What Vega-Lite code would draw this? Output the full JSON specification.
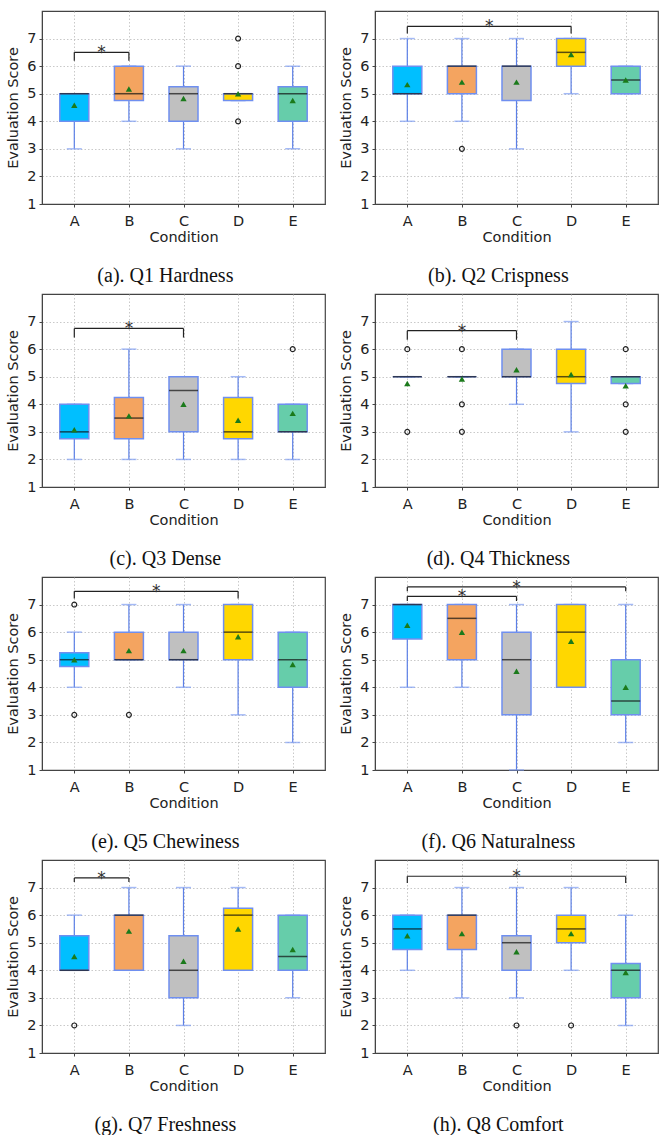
{
  "$schema": "https://vega.github.io/schema/vega-lite/v6.json",
  "padding": {"left": 5, "top": 10, "right": 0, "bottom": 0},
  "background": "white",
  "data": {"values": [
    {"p":"a","k":"box","c":0,"cl":"A","q1":4,"q3":5,"med":5,"lo":3,"hi":5,"mean":4.58},
    {"p":"a","k":"box","c":1,"cl":"B","q1":4.75,"q3":6,"med":5,"lo":4,"hi":6,"mean":5.17},
    {"p":"a","k":"box","c":2,"cl":"C","q1":4,"q3":5.25,"med":5,"lo":3,"hi":6,"mean":4.83},
    {"p":"a","k":"box","c":3,"cl":"D","q1":4.75,"q3":5,"med":5,"lo":4.75,"hi":5,"mean":5.0},
    {"p":"a","k":"box","c":4,"cl":"E","q1":4,"q3":5.25,"med":5,"lo":3,"hi":6,"mean":4.75},
    {"p":"a","k":"out","c":3,"v":4},
    {"p":"a","k":"out","c":3,"v":6},
    {"p":"a","k":"out","c":3,"v":7},
    {"p":"a","k":"br","c1":0,"c2":1,"s":0.5,"y":6.5,"y0":6.2},

    {"p":"b","k":"box","c":0,"cl":"A","q1":5,"q3":6,"med":5,"lo":4,"hi":7,"mean":5.33},
    {"p":"b","k":"box","c":1,"cl":"B","q1":5,"q3":6,"med":6,"lo":4,"hi":7,"mean":5.42},
    {"p":"b","k":"box","c":2,"cl":"C","q1":4.75,"q3":6,"med":6,"lo":3,"hi":7,"mean":5.42},
    {"p":"b","k":"box","c":3,"cl":"D","q1":6,"q3":7,"med":6.5,"lo":5,"hi":7,"mean":6.42},
    {"p":"b","k":"box","c":4,"cl":"E","q1":5,"q3":6,"med":5.5,"lo":5,"hi":6,"mean":5.5},
    {"p":"b","k":"out","c":1,"v":3},
    {"p":"b","k":"br","c1":0,"c2":3,"s":1.5,"y":7.44,"y0":7.18},

    {"p":"c","k":"box","c":0,"cl":"A","q1":2.75,"q3":4,"med":3,"lo":2,"hi":4,"mean":3.08},
    {"p":"c","k":"box","c":1,"cl":"B","q1":2.75,"q3":4.25,"med":3.5,"lo":2,"hi":6,"mean":3.58},
    {"p":"c","k":"box","c":2,"cl":"C","q1":3,"q3":5,"med":4.5,"lo":2,"hi":5,"mean":4.0},
    {"p":"c","k":"box","c":3,"cl":"D","q1":2.75,"q3":4.25,"med":3,"lo":2,"hi":5,"mean":3.42},
    {"p":"c","k":"box","c":4,"cl":"E","q1":3,"q3":4,"med":3,"lo":2,"hi":4,"mean":3.67},
    {"p":"c","k":"out","c":4,"v":6},
    {"p":"c","k":"br","c1":0,"c2":2,"s":1,"y":6.75,"y0":6.42},

    {"p":"d","k":"box","c":0,"cl":"A","q1":5,"q3":5,"med":5,"lo":5,"hi":5,"mean":4.75},
    {"p":"d","k":"box","c":1,"cl":"B","q1":5,"q3":5,"med":5,"lo":5,"hi":5,"mean":4.92},
    {"p":"d","k":"box","c":2,"cl":"C","q1":5,"q3":6,"med":5,"lo":4,"hi":6,"mean":5.25},
    {"p":"d","k":"box","c":3,"cl":"D","q1":4.75,"q3":6,"med":5,"lo":3,"hi":7,"mean":5.08},
    {"p":"d","k":"box","c":4,"cl":"E","q1":4.75,"q3":5,"med":5,"lo":4.75,"hi":5,"mean":4.67},
    {"p":"d","k":"out","c":0,"v":3},
    {"p":"d","k":"out","c":0,"v":6},
    {"p":"d","k":"out","c":1,"v":3},
    {"p":"d","k":"out","c":1,"v":4},
    {"p":"d","k":"out","c":1,"v":6},
    {"p":"d","k":"out","c":4,"v":3},
    {"p":"d","k":"out","c":4,"v":4},
    {"p":"d","k":"out","c":4,"v":6},
    {"p":"d","k":"br","c1":0,"c2":2,"s":1,"y":6.67,"y0":6.34},

    {"p":"e","k":"box","c":0,"cl":"A","q1":4.75,"q3":5.25,"med":5,"lo":4,"hi":6,"mean":5.0},
    {"p":"e","k":"box","c":1,"cl":"B","q1":5,"q3":6,"med":5,"lo":5,"hi":7,"mean":5.33},
    {"p":"e","k":"box","c":2,"cl":"C","q1":5,"q3":6,"med":5,"lo":4,"hi":7,"mean":5.33},
    {"p":"e","k":"box","c":3,"cl":"D","q1":5,"q3":7,"med":6,"lo":3,"hi":7,"mean":5.83},
    {"p":"e","k":"box","c":4,"cl":"E","q1":4,"q3":6,"med":5,"lo":2,"hi":6,"mean":4.83},
    {"p":"e","k":"out","c":0,"v":3},
    {"p":"e","k":"out","c":0,"v":7},
    {"p":"e","k":"out","c":1,"v":3},
    {"p":"e","k":"br","c1":0,"c2":3,"s":1.5,"y":7.48,"y0":7.22},

    {"p":"f","k":"box","c":0,"cl":"A","q1":5.75,"q3":7,"med":7,"lo":4,"hi":7,"mean":6.25},
    {"p":"f","k":"box","c":1,"cl":"B","q1":5,"q3":7,"med":6.5,"lo":4,"hi":7,"mean":6.0},
    {"p":"f","k":"box","c":2,"cl":"C","q1":3,"q3":6,"med":5,"lo":1,"hi":7,"mean":4.58},
    {"p":"f","k":"box","c":3,"cl":"D","q1":4,"q3":7,"med":6,"lo":4,"hi":7,"mean":5.67},
    {"p":"f","k":"box","c":4,"cl":"E","q1":3,"q3":5,"med":3.5,"lo":2,"hi":7,"mean":4.0},
    {"p":"f","k":"br","c1":0,"c2":2,"s":1,"y":7.3,"y0":7.13},
    {"p":"f","k":"br","c1":0,"c2":4,"s":2,"y":7.64,"y0":7.48},

    {"p":"g","k":"box","c":0,"cl":"A","q1":4,"q3":5.25,"med":4,"lo":4,"hi":6,"mean":4.5},
    {"p":"g","k":"box","c":1,"cl":"B","q1":4,"q3":6,"med":6,"lo":4,"hi":7,"mean":5.42},
    {"p":"g","k":"box","c":2,"cl":"C","q1":3,"q3":5.25,"med":4,"lo":2,"hi":7,"mean":4.33},
    {"p":"g","k":"box","c":3,"cl":"D","q1":4,"q3":6.25,"med":6,"lo":4,"hi":7,"mean":5.5},
    {"p":"g","k":"box","c":4,"cl":"E","q1":4,"q3":6,"med":4.5,"lo":3,"hi":6,"mean":4.75},
    {"p":"g","k":"out","c":0,"v":2},
    {"p":"g","k":"br","c1":0,"c2":1,"s":0.5,"y":7.35,"y0":7.2},

    {"p":"h","k":"box","c":0,"cl":"A","q1":4.75,"q3":6,"med":5.5,"lo":4,"hi":6,"mean":5.25},
    {"p":"h","k":"box","c":1,"cl":"B","q1":4.75,"q3":6,"med":6,"lo":3,"hi":7,"mean":5.33},
    {"p":"h","k":"box","c":2,"cl":"C","q1":4,"q3":5.25,"med":5,"lo":3,"hi":7,"mean":4.67},
    {"p":"h","k":"box","c":3,"cl":"D","q1":5,"q3":6,"med":5.5,"lo":4,"hi":7,"mean":5.33},
    {"p":"h","k":"box","c":4,"cl":"E","q1":3,"q3":4.25,"med":4,"lo":2,"hi":6,"mean":3.92},
    {"p":"h","k":"out","c":2,"v":2},
    {"p":"h","k":"out","c":3,"v":2},
    {"p":"h","k":"br","c1":0,"c2":4,"s":2,"y":7.41,"y0":7.17}
  ]},
  "vconcat": [
    {"hconcat": [
      {"width":283,"height":193,"title":{"text":"(a). Q1 Hardness"},"transform":[{"filter":"datum.p=='a'"}],
       "encoding":{"x":{"field":"c","type":"quantitative","title":"Condition","scale":{"domain":[-0.5,4.5],"nice":false,"zero":false},"axis":{"values":[0,1,2,3,4],"tickCount":10,"labelExpr":"['A','B','C','D','E'][datum.value]"}}},
       "layer":[
        {"transform":[{"filter":"datum.k=='box'"}],"mark":{"type":"rule","color":"#5b7fe6","strokeWidth":1.2},"encoding":{"y":{"field":"lo","type":"quantitative","title":"Evaluation Score","scale":{"domain":[1,8],"nice":false,"zero":false},"axis":{"values":[1,2,3,4,5,6,7],"tickCount":10,"format":"d","labelOverlap":false}},"y2":{"field":"hi"}}},
        {"transform":[{"filter":"datum.k=='box'"},{"fold":["lo","hi"],"as":["w","wv"]}],"mark":{"type":"tick","orient":"horizontal","color":"#7d9cf2","size":15,"thickness":1.5},"encoding":{"y":{"field":"wv","type":"quantitative","title":"Evaluation Score"}}},
        {"transform":[{"filter":"datum.k=='box'"}],"mark":{"type":"bar","orient":"vertical","size":29,"stroke":"#6f8ff0","strokeWidth":1.5},"encoding":{"y":{"field":"q1","type":"quantitative","title":"Evaluation Score"},"y2":{"field":"q3"},"color":{"field":"cl","type":"nominal","scale":{"domain":["A","B","C","D","E"],"range":["#00bfff","#f4a460","#c0c0c0","#ffd700","#66cdaa"]},"legend":null}}},
        {"transform":[{"filter":"datum.k=='box'"}],"mark":{"type":"tick","orient":"horizontal","color":"#111","size":29,"thickness":1.5},"encoding":{"y":{"field":"med","type":"quantitative","title":"Evaluation Score"}}},
        {"transform":[{"filter":"datum.k=='box'"}],"mark":{"type":"point","shape":"triangle-up","filled":true,"color":"#1b7a1b","size":40,"opacity":1},"encoding":{"y":{"field":"mean","type":"quantitative","title":"Evaluation Score"}}},
        {"transform":[{"filter":"datum.k=='out'"}],"mark":{"type":"point","shape":"circle","filled":false,"color":"#222","size":24,"strokeWidth":1.2,"opacity":1},"encoding":{"y":{"field":"v","type":"quantitative","title":"Evaluation Score"}}},
        {"transform":[{"filter":"datum.k=='br'"}],"mark":{"type":"rule","color":"#222","strokeWidth":1.2},"encoding":{"x":{"field":"c1","type":"quantitative","title":"Condition"},"x2":{"field":"c2"},"y":{"field":"y","type":"quantitative","title":"Evaluation Score"}}},
        {"transform":[{"filter":"datum.k=='br'"},{"fold":["c1","c2"],"as":["side","cx"]}],"mark":{"type":"rule","color":"#222","strokeWidth":1.2},"encoding":{"x":{"field":"cx","type":"quantitative","title":"Condition"},"y":{"field":"y0","type":"quantitative","title":"Evaluation Score"},"y2":{"field":"y"}}},
        {"transform":[{"filter":"datum.k=='br'"}],"mark":{"type":"text","text":"*","font":"DejaVu Sans","fontSize":17,"color":"#333","baseline":"alphabetic","align":"center","dy":6},"encoding":{"x":{"field":"s","type":"quantitative","title":"Condition"},"y":{"field":"y","type":"quantitative","title":"Evaluation Score"}}}
       ]},
      {"width":283,"height":193,"title":{"text":"(b). Q2 Crispness"},"transform":[{"filter":"datum.p=='b'"}],
       "encoding":{"x":{"field":"c","type":"quantitative","title":"Condition","scale":{"domain":[-0.5,4.5],"nice":false,"zero":false},"axis":{"values":[0,1,2,3,4],"tickCount":10,"labelExpr":"['A','B','C','D','E'][datum.value]"}}},
       "layer":[
        {"transform":[{"filter":"datum.k=='box'"}],"mark":{"type":"rule","color":"#5b7fe6","strokeWidth":1.2},"encoding":{"y":{"field":"lo","type":"quantitative","title":"Evaluation Score","scale":{"domain":[1,8],"nice":false,"zero":false},"axis":{"values":[1,2,3,4,5,6,7],"tickCount":10,"format":"d","labelOverlap":false}},"y2":{"field":"hi"}}},
        {"transform":[{"filter":"datum.k=='box'"},{"fold":["lo","hi"],"as":["w","wv"]}],"mark":{"type":"tick","orient":"horizontal","color":"#7d9cf2","size":15,"thickness":1.5},"encoding":{"y":{"field":"wv","type":"quantitative","title":"Evaluation Score"}}},
        {"transform":[{"filter":"datum.k=='box'"}],"mark":{"type":"bar","orient":"vertical","size":29,"stroke":"#6f8ff0","strokeWidth":1.5},"encoding":{"y":{"field":"q1","type":"quantitative","title":"Evaluation Score"},"y2":{"field":"q3"},"color":{"field":"cl","type":"nominal","scale":{"domain":["A","B","C","D","E"],"range":["#00bfff","#f4a460","#c0c0c0","#ffd700","#66cdaa"]},"legend":null}}},
        {"transform":[{"filter":"datum.k=='box'"}],"mark":{"type":"tick","orient":"horizontal","color":"#111","size":29,"thickness":1.5},"encoding":{"y":{"field":"med","type":"quantitative","title":"Evaluation Score"}}},
        {"transform":[{"filter":"datum.k=='box'"}],"mark":{"type":"point","shape":"triangle-up","filled":true,"color":"#1b7a1b","size":40,"opacity":1},"encoding":{"y":{"field":"mean","type":"quantitative","title":"Evaluation Score"}}},
        {"transform":[{"filter":"datum.k=='out'"}],"mark":{"type":"point","shape":"circle","filled":false,"color":"#222","size":24,"strokeWidth":1.2,"opacity":1},"encoding":{"y":{"field":"v","type":"quantitative","title":"Evaluation Score"}}},
        {"transform":[{"filter":"datum.k=='br'"}],"mark":{"type":"rule","color":"#222","strokeWidth":1.2},"encoding":{"x":{"field":"c1","type":"quantitative","title":"Condition"},"x2":{"field":"c2"},"y":{"field":"y","type":"quantitative","title":"Evaluation Score"}}},
        {"transform":[{"filter":"datum.k=='br'"},{"fold":["c1","c2"],"as":["side","cx"]}],"mark":{"type":"rule","color":"#222","strokeWidth":1.2},"encoding":{"x":{"field":"cx","type":"quantitative","title":"Condition"},"y":{"field":"y0","type":"quantitative","title":"Evaluation Score"},"y2":{"field":"y"}}},
        {"transform":[{"filter":"datum.k=='br'"}],"mark":{"type":"text","text":"*","font":"DejaVu Sans","fontSize":17,"color":"#333","baseline":"alphabetic","align":"center","dy":6},"encoding":{"x":{"field":"s","type":"quantitative","title":"Condition"},"y":{"field":"y","type":"quantitative","title":"Evaluation Score"}}}
       ]}
    ]},
    {"hconcat": [
      {"width":283,"height":193,"title":{"text":"(c). Q3 Dense"},"transform":[{"filter":"datum.p=='c'"}],
       "encoding":{"x":{"field":"c","type":"quantitative","title":"Condition","scale":{"domain":[-0.5,4.5],"nice":false,"zero":false},"axis":{"values":[0,1,2,3,4],"tickCount":10,"labelExpr":"['A','B','C','D','E'][datum.value]"}}},
       "layer":[
        {"transform":[{"filter":"datum.k=='box'"}],"mark":{"type":"rule","color":"#5b7fe6","strokeWidth":1.2},"encoding":{"y":{"field":"lo","type":"quantitative","title":"Evaluation Score","scale":{"domain":[1,8],"nice":false,"zero":false},"axis":{"values":[1,2,3,4,5,6,7],"tickCount":10,"format":"d","labelOverlap":false}},"y2":{"field":"hi"}}},
        {"transform":[{"filter":"datum.k=='box'"},{"fold":["lo","hi"],"as":["w","wv"]}],"mark":{"type":"tick","orient":"horizontal","color":"#7d9cf2","size":15,"thickness":1.5},"encoding":{"y":{"field":"wv","type":"quantitative","title":"Evaluation Score"}}},
        {"transform":[{"filter":"datum.k=='box'"}],"mark":{"type":"bar","orient":"vertical","size":29,"stroke":"#6f8ff0","strokeWidth":1.5},"encoding":{"y":{"field":"q1","type":"quantitative","title":"Evaluation Score"},"y2":{"field":"q3"},"color":{"field":"cl","type":"nominal","scale":{"domain":["A","B","C","D","E"],"range":["#00bfff","#f4a460","#c0c0c0","#ffd700","#66cdaa"]},"legend":null}}},
        {"transform":[{"filter":"datum.k=='box'"}],"mark":{"type":"tick","orient":"horizontal","color":"#111","size":29,"thickness":1.5},"encoding":{"y":{"field":"med","type":"quantitative","title":"Evaluation Score"}}},
        {"transform":[{"filter":"datum.k=='box'"}],"mark":{"type":"point","shape":"triangle-up","filled":true,"color":"#1b7a1b","size":40,"opacity":1},"encoding":{"y":{"field":"mean","type":"quantitative","title":"Evaluation Score"}}},
        {"transform":[{"filter":"datum.k=='out'"}],"mark":{"type":"point","shape":"circle","filled":false,"color":"#222","size":24,"strokeWidth":1.2,"opacity":1},"encoding":{"y":{"field":"v","type":"quantitative","title":"Evaluation Score"}}},
        {"transform":[{"filter":"datum.k=='br'"}],"mark":{"type":"rule","color":"#222","strokeWidth":1.2},"encoding":{"x":{"field":"c1","type":"quantitative","title":"Condition"},"x2":{"field":"c2"},"y":{"field":"y","type":"quantitative","title":"Evaluation Score"}}},
        {"transform":[{"filter":"datum.k=='br'"},{"fold":["c1","c2"],"as":["side","cx"]}],"mark":{"type":"rule","color":"#222","strokeWidth":1.2},"encoding":{"x":{"field":"cx","type":"quantitative","title":"Condition"},"y":{"field":"y0","type":"quantitative","title":"Evaluation Score"},"y2":{"field":"y"}}},
        {"transform":[{"filter":"datum.k=='br'"}],"mark":{"type":"text","text":"*","font":"DejaVu Sans","fontSize":17,"color":"#333","baseline":"alphabetic","align":"center","dy":6},"encoding":{"x":{"field":"s","type":"quantitative","title":"Condition"},"y":{"field":"y","type":"quantitative","title":"Evaluation Score"}}}
       ]},
      {"width":283,"height":193,"title":{"text":"(d). Q4 Thickness"},"transform":[{"filter":"datum.p=='d'"}],
       "encoding":{"x":{"field":"c","type":"quantitative","title":"Condition","scale":{"domain":[-0.5,4.5],"nice":false,"zero":false},"axis":{"values":[0,1,2,3,4],"tickCount":10,"labelExpr":"['A','B','C','D','E'][datum.value]"}}},
       "layer":[
        {"transform":[{"filter":"datum.k=='box'"}],"mark":{"type":"rule","color":"#5b7fe6","strokeWidth":1.2},"encoding":{"y":{"field":"lo","type":"quantitative","title":"Evaluation Score","scale":{"domain":[1,8],"nice":false,"zero":false},"axis":{"values":[1,2,3,4,5,6,7],"tickCount":10,"format":"d","labelOverlap":false}},"y2":{"field":"hi"}}},
        {"transform":[{"filter":"datum.k=='box'"},{"fold":["lo","hi"],"as":["w","wv"]}],"mark":{"type":"tick","orient":"horizontal","color":"#7d9cf2","size":15,"thickness":1.5},"encoding":{"y":{"field":"wv","type":"quantitative","title":"Evaluation Score"}}},
        {"transform":[{"filter":"datum.k=='box'"}],"mark":{"type":"bar","orient":"vertical","size":29,"stroke":"#6f8ff0","strokeWidth":1.5},"encoding":{"y":{"field":"q1","type":"quantitative","title":"Evaluation Score"},"y2":{"field":"q3"},"color":{"field":"cl","type":"nominal","scale":{"domain":["A","B","C","D","E"],"range":["#00bfff","#f4a460","#c0c0c0","#ffd700","#66cdaa"]},"legend":null}}},
        {"transform":[{"filter":"datum.k=='box'"}],"mark":{"type":"tick","orient":"horizontal","color":"#111","size":29,"thickness":1.5},"encoding":{"y":{"field":"med","type":"quantitative","title":"Evaluation Score"}}},
        {"transform":[{"filter":"datum.k=='box'"}],"mark":{"type":"point","shape":"triangle-up","filled":true,"color":"#1b7a1b","size":40,"opacity":1},"encoding":{"y":{"field":"mean","type":"quantitative","title":"Evaluation Score"}}},
        {"transform":[{"filter":"datum.k=='out'"}],"mark":{"type":"point","shape":"circle","filled":false,"color":"#222","size":24,"strokeWidth":1.2,"opacity":1},"encoding":{"y":{"field":"v","type":"quantitative","title":"Evaluation Score"}}},
        {"transform":[{"filter":"datum.k=='br'"}],"mark":{"type":"rule","color":"#222","strokeWidth":1.2},"encoding":{"x":{"field":"c1","type":"quantitative","title":"Condition"},"x2":{"field":"c2"},"y":{"field":"y","type":"quantitative","title":"Evaluation Score"}}},
        {"transform":[{"filter":"datum.k=='br'"},{"fold":["c1","c2"],"as":["side","cx"]}],"mark":{"type":"rule","color":"#222","strokeWidth":1.2},"encoding":{"x":{"field":"cx","type":"quantitative","title":"Condition"},"y":{"field":"y0","type":"quantitative","title":"Evaluation Score"},"y2":{"field":"y"}}},
        {"transform":[{"filter":"datum.k=='br'"}],"mark":{"type":"text","text":"*","font":"DejaVu Sans","fontSize":17,"color":"#333","baseline":"alphabetic","align":"center","dy":6},"encoding":{"x":{"field":"s","type":"quantitative","title":"Condition"},"y":{"field":"y","type":"quantitative","title":"Evaluation Score"}}}
       ]}
    ]},
    {"hconcat": [
      {"width":283,"height":193,"title":{"text":"(e). Q5 Chewiness"},"transform":[{"filter":"datum.p=='e'"}],
       "encoding":{"x":{"field":"c","type":"quantitative","title":"Condition","scale":{"domain":[-0.5,4.5],"nice":false,"zero":false},"axis":{"values":[0,1,2,3,4],"tickCount":10,"labelExpr":"['A','B','C','D','E'][datum.value]"}}},
       "layer":[
        {"transform":[{"filter":"datum.k=='box'"}],"mark":{"type":"rule","color":"#5b7fe6","strokeWidth":1.2},"encoding":{"y":{"field":"lo","type":"quantitative","title":"Evaluation Score","scale":{"domain":[1,8],"nice":false,"zero":false},"axis":{"values":[1,2,3,4,5,6,7],"tickCount":10,"format":"d","labelOverlap":false}},"y2":{"field":"hi"}}},
        {"transform":[{"filter":"datum.k=='box'"},{"fold":["lo","hi"],"as":["w","wv"]}],"mark":{"type":"tick","orient":"horizontal","color":"#7d9cf2","size":15,"thickness":1.5},"encoding":{"y":{"field":"wv","type":"quantitative","title":"Evaluation Score"}}},
        {"transform":[{"filter":"datum.k=='box'"}],"mark":{"type":"bar","orient":"vertical","size":29,"stroke":"#6f8ff0","strokeWidth":1.5},"encoding":{"y":{"field":"q1","type":"quantitative","title":"Evaluation Score"},"y2":{"field":"q3"},"color":{"field":"cl","type":"nominal","scale":{"domain":["A","B","C","D","E"],"range":["#00bfff","#f4a460","#c0c0c0","#ffd700","#66cdaa"]},"legend":null}}},
        {"transform":[{"filter":"datum.k=='box'"}],"mark":{"type":"tick","orient":"horizontal","color":"#111","size":29,"thickness":1.5},"encoding":{"y":{"field":"med","type":"quantitative","title":"Evaluation Score"}}},
        {"transform":[{"filter":"datum.k=='box'"}],"mark":{"type":"point","shape":"triangle-up","filled":true,"color":"#1b7a1b","size":40,"opacity":1},"encoding":{"y":{"field":"mean","type":"quantitative","title":"Evaluation Score"}}},
        {"transform":[{"filter":"datum.k=='out'"}],"mark":{"type":"point","shape":"circle","filled":false,"color":"#222","size":24,"strokeWidth":1.2,"opacity":1},"encoding":{"y":{"field":"v","type":"quantitative","title":"Evaluation Score"}}},
        {"transform":[{"filter":"datum.k=='br'"}],"mark":{"type":"rule","color":"#222","strokeWidth":1.2},"encoding":{"x":{"field":"c1","type":"quantitative","title":"Condition"},"x2":{"field":"c2"},"y":{"field":"y","type":"quantitative","title":"Evaluation Score"}}},
        {"transform":[{"filter":"datum.k=='br'"},{"fold":["c1","c2"],"as":["side","cx"]}],"mark":{"type":"rule","color":"#222","strokeWidth":1.2},"encoding":{"x":{"field":"cx","type":"quantitative","title":"Condition"},"y":{"field":"y0","type":"quantitative","title":"Evaluation Score"},"y2":{"field":"y"}}},
        {"transform":[{"filter":"datum.k=='br'"}],"mark":{"type":"text","text":"*","font":"DejaVu Sans","fontSize":17,"color":"#333","baseline":"alphabetic","align":"center","dy":6},"encoding":{"x":{"field":"s","type":"quantitative","title":"Condition"},"y":{"field":"y","type":"quantitative","title":"Evaluation Score"}}}
       ]},
      {"width":283,"height":193,"title":{"text":"(f). Q6 Naturalness"},"transform":[{"filter":"datum.p=='f'"}],
       "encoding":{"x":{"field":"c","type":"quantitative","title":"Condition","scale":{"domain":[-0.5,4.5],"nice":false,"zero":false},"axis":{"values":[0,1,2,3,4],"tickCount":10,"labelExpr":"['A','B','C','D','E'][datum.value]"}}},
       "layer":[
        {"transform":[{"filter":"datum.k=='box'"}],"mark":{"type":"rule","color":"#5b7fe6","strokeWidth":1.2},"encoding":{"y":{"field":"lo","type":"quantitative","title":"Evaluation Score","scale":{"domain":[1,8],"nice":false,"zero":false},"axis":{"values":[1,2,3,4,5,6,7],"tickCount":10,"format":"d","labelOverlap":false}},"y2":{"field":"hi"}}},
        {"transform":[{"filter":"datum.k=='box'"},{"fold":["lo","hi"],"as":["w","wv"]}],"mark":{"type":"tick","orient":"horizontal","color":"#7d9cf2","size":15,"thickness":1.5},"encoding":{"y":{"field":"wv","type":"quantitative","title":"Evaluation Score"}}},
        {"transform":[{"filter":"datum.k=='box'"}],"mark":{"type":"bar","orient":"vertical","size":29,"stroke":"#6f8ff0","strokeWidth":1.5},"encoding":{"y":{"field":"q1","type":"quantitative","title":"Evaluation Score"},"y2":{"field":"q3"},"color":{"field":"cl","type":"nominal","scale":{"domain":["A","B","C","D","E"],"range":["#00bfff","#f4a460","#c0c0c0","#ffd700","#66cdaa"]},"legend":null}}},
        {"transform":[{"filter":"datum.k=='box'"}],"mark":{"type":"tick","orient":"horizontal","color":"#111","size":29,"thickness":1.5},"encoding":{"y":{"field":"med","type":"quantitative","title":"Evaluation Score"}}},
        {"transform":[{"filter":"datum.k=='box'"}],"mark":{"type":"point","shape":"triangle-up","filled":true,"color":"#1b7a1b","size":40,"opacity":1},"encoding":{"y":{"field":"mean","type":"quantitative","title":"Evaluation Score"}}},
        {"transform":[{"filter":"datum.k=='out'"}],"mark":{"type":"point","shape":"circle","filled":false,"color":"#222","size":24,"strokeWidth":1.2,"opacity":1},"encoding":{"y":{"field":"v","type":"quantitative","title":"Evaluation Score"}}},
        {"transform":[{"filter":"datum.k=='br'"}],"mark":{"type":"rule","color":"#222","strokeWidth":1.2},"encoding":{"x":{"field":"c1","type":"quantitative","title":"Condition"},"x2":{"field":"c2"},"y":{"field":"y","type":"quantitative","title":"Evaluation Score"}}},
        {"transform":[{"filter":"datum.k=='br'"},{"fold":["c1","c2"],"as":["side","cx"]}],"mark":{"type":"rule","color":"#222","strokeWidth":1.2},"encoding":{"x":{"field":"cx","type":"quantitative","title":"Condition"},"y":{"field":"y0","type":"quantitative","title":"Evaluation Score"},"y2":{"field":"y"}}},
        {"transform":[{"filter":"datum.k=='br'"}],"mark":{"type":"text","text":"*","font":"DejaVu Sans","fontSize":17,"color":"#333","baseline":"alphabetic","align":"center","dy":6},"encoding":{"x":{"field":"s","type":"quantitative","title":"Condition"},"y":{"field":"y","type":"quantitative","title":"Evaluation Score"}}}
       ]}
    ]},
    {"hconcat": [
      {"width":283,"height":193,"title":{"text":"(g). Q7 Freshness"},"transform":[{"filter":"datum.p=='g'"}],
       "encoding":{"x":{"field":"c","type":"quantitative","title":"Condition","scale":{"domain":[-0.5,4.5],"nice":false,"zero":false},"axis":{"values":[0,1,2,3,4],"tickCount":10,"labelExpr":"['A','B','C','D','E'][datum.value]"}}},
       "layer":[
        {"transform":[{"filter":"datum.k=='box'"}],"mark":{"type":"rule","color":"#5b7fe6","strokeWidth":1.2},"encoding":{"y":{"field":"lo","type":"quantitative","title":"Evaluation Score","scale":{"domain":[1,8],"nice":false,"zero":false},"axis":{"values":[1,2,3,4,5,6,7],"tickCount":10,"format":"d","labelOverlap":false}},"y2":{"field":"hi"}}},
        {"transform":[{"filter":"datum.k=='box'"},{"fold":["lo","hi"],"as":["w","wv"]}],"mark":{"type":"tick","orient":"horizontal","color":"#7d9cf2","size":15,"thickness":1.5},"encoding":{"y":{"field":"wv","type":"quantitative","title":"Evaluation Score"}}},
        {"transform":[{"filter":"datum.k=='box'"}],"mark":{"type":"bar","orient":"vertical","size":29,"stroke":"#6f8ff0","strokeWidth":1.5},"encoding":{"y":{"field":"q1","type":"quantitative","title":"Evaluation Score"},"y2":{"field":"q3"},"color":{"field":"cl","type":"nominal","scale":{"domain":["A","B","C","D","E"],"range":["#00bfff","#f4a460","#c0c0c0","#ffd700","#66cdaa"]},"legend":null}}},
        {"transform":[{"filter":"datum.k=='box'"}],"mark":{"type":"tick","orient":"horizontal","color":"#111","size":29,"thickness":1.5},"encoding":{"y":{"field":"med","type":"quantitative","title":"Evaluation Score"}}},
        {"transform":[{"filter":"datum.k=='box'"}],"mark":{"type":"point","shape":"triangle-up","filled":true,"color":"#1b7a1b","size":40,"opacity":1},"encoding":{"y":{"field":"mean","type":"quantitative","title":"Evaluation Score"}}},
        {"transform":[{"filter":"datum.k=='out'"}],"mark":{"type":"point","shape":"circle","filled":false,"color":"#222","size":24,"strokeWidth":1.2,"opacity":1},"encoding":{"y":{"field":"v","type":"quantitative","title":"Evaluation Score"}}},
        {"transform":[{"filter":"datum.k=='br'"}],"mark":{"type":"rule","color":"#222","strokeWidth":1.2},"encoding":{"x":{"field":"c1","type":"quantitative","title":"Condition"},"x2":{"field":"c2"},"y":{"field":"y","type":"quantitative","title":"Evaluation Score"}}},
        {"transform":[{"filter":"datum.k=='br'"},{"fold":["c1","c2"],"as":["side","cx"]}],"mark":{"type":"rule","color":"#222","strokeWidth":1.2},"encoding":{"x":{"field":"cx","type":"quantitative","title":"Condition"},"y":{"field":"y0","type":"quantitative","title":"Evaluation Score"},"y2":{"field":"y"}}},
        {"transform":[{"filter":"datum.k=='br'"}],"mark":{"type":"text","text":"*","font":"DejaVu Sans","fontSize":17,"color":"#333","baseline":"alphabetic","align":"center","dy":6},"encoding":{"x":{"field":"s","type":"quantitative","title":"Condition"},"y":{"field":"y","type":"quantitative","title":"Evaluation Score"}}}
       ]},
      {"width":283,"height":193,"title":{"text":"(h). Q8 Comfort"},"transform":[{"filter":"datum.p=='h'"}],
       "encoding":{"x":{"field":"c","type":"quantitative","title":"Condition","scale":{"domain":[-0.5,4.5],"nice":false,"zero":false},"axis":{"values":[0,1,2,3,4],"tickCount":10,"labelExpr":"['A','B','C','D','E'][datum.value]"}}},
       "layer":[
        {"transform":[{"filter":"datum.k=='box'"}],"mark":{"type":"rule","color":"#5b7fe6","strokeWidth":1.2},"encoding":{"y":{"field":"lo","type":"quantitative","title":"Evaluation Score","scale":{"domain":[1,8],"nice":false,"zero":false},"axis":{"values":[1,2,3,4,5,6,7],"tickCount":10,"format":"d","labelOverlap":false}},"y2":{"field":"hi"}}},
        {"transform":[{"filter":"datum.k=='box'"},{"fold":["lo","hi"],"as":["w","wv"]}],"mark":{"type":"tick","orient":"horizontal","color":"#7d9cf2","size":15,"thickness":1.5},"encoding":{"y":{"field":"wv","type":"quantitative","title":"Evaluation Score"}}},
        {"transform":[{"filter":"datum.k=='box'"}],"mark":{"type":"bar","orient":"vertical","size":29,"stroke":"#6f8ff0","strokeWidth":1.5},"encoding":{"y":{"field":"q1","type":"quantitative","title":"Evaluation Score"},"y2":{"field":"q3"},"color":{"field":"cl","type":"nominal","scale":{"domain":["A","B","C","D","E"],"range":["#00bfff","#f4a460","#c0c0c0","#ffd700","#66cdaa"]},"legend":null}}},
        {"transform":[{"filter":"datum.k=='box'"}],"mark":{"type":"tick","orient":"horizontal","color":"#111","size":29,"thickness":1.5},"encoding":{"y":{"field":"med","type":"quantitative","title":"Evaluation Score"}}},
        {"transform":[{"filter":"datum.k=='box'"}],"mark":{"type":"point","shape":"triangle-up","filled":true,"color":"#1b7a1b","size":40,"opacity":1},"encoding":{"y":{"field":"mean","type":"quantitative","title":"Evaluation Score"}}},
        {"transform":[{"filter":"datum.k=='out'"}],"mark":{"type":"point","shape":"circle","filled":false,"color":"#222","size":24,"strokeWidth":1.2,"opacity":1},"encoding":{"y":{"field":"v","type":"quantitative","title":"Evaluation Score"}}},
        {"transform":[{"filter":"datum.k=='br'"}],"mark":{"type":"rule","color":"#222","strokeWidth":1.2},"encoding":{"x":{"field":"c1","type":"quantitative","title":"Condition"},"x2":{"field":"c2"},"y":{"field":"y","type":"quantitative","title":"Evaluation Score"}}},
        {"transform":[{"filter":"datum.k=='br'"},{"fold":["c1","c2"],"as":["side","cx"]}],"mark":{"type":"rule","color":"#222","strokeWidth":1.2},"encoding":{"x":{"field":"cx","type":"quantitative","title":"Condition"},"y":{"field":"y0","type":"quantitative","title":"Evaluation Score"},"y2":{"field":"y"}}},
        {"transform":[{"filter":"datum.k=='br'"}],"mark":{"type":"text","text":"*","font":"DejaVu Sans","fontSize":17,"color":"#333","baseline":"alphabetic","align":"center","dy":6},"encoding":{"x":{"field":"s","type":"quantitative","title":"Condition"},"y":{"field":"y","type":"quantitative","title":"Evaluation Score"}}}
       ]}
    ]}
  ],
  "spacing": 6,
  "config": {
    "concat": {"spacing": 12},
    "view": {"stroke": "#444", "strokeWidth": 1.2},
    "title": {"orient": "bottom", "frame": "bounds", "anchor": "middle", "font": "Liberation Serif", "fontSize": 20, "fontWeight": "normal", "color": "#111", "offset": 22},
    "axis": {
      "labelFont": "DejaVu Sans", "labelFontSize": 14.5, "labelColor": "#222", "labelOverlap": false,
      "titleFont": "DejaVu Sans", "titleFontSize": 14.5, "titleFontWeight": "normal", "titleColor": "#222",
      "domainColor": "#444", "tickColor": "#444", "tickSize": 3,
      "gridColor": "#bbbbbb", "gridDash": [1.5, 2], "gridWidth": 0.8, "grid": true
    },
    "axisY": {"labelPadding": 3, "titlePadding": 6},
    "axisX": {"labelPadding": 7, "titlePadding": 3}
  }
}
